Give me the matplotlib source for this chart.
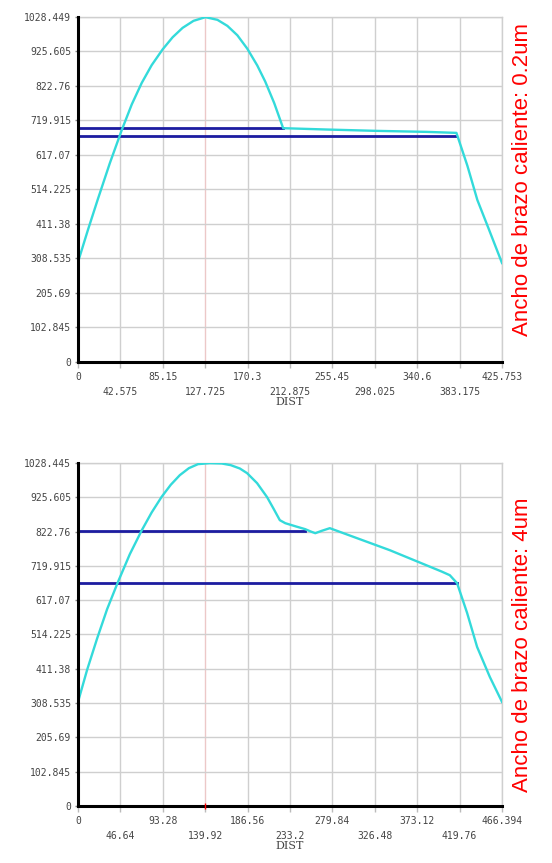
import matplotlib
matplotlib.use("Agg")
import matplotlib.pyplot as plt

# panel 1: ancho de brazo caliente 0.2um
x1_ticks = [0, 42.575, 85.15, 127.725, 170.3, 212.875, 255.45, 298.025, 340.6, 383.175, 425.753]
x1 = [0, 10, 20, 32, 44, 54, 64, 74, 85, 95, 105, 116, 128, 140, 150, 160, 170, 180, 188, 197, 206,
      250, 300, 350, 380, 391, 401, 412, 425.753]
y1 = [298, 394, 486, 593, 692, 768, 832, 885, 932, 968, 996, 1017, 1028, 1020, 1002, 974, 934, 884,
      836, 772, 697, 693, 689, 686, 683, 585, 483, 400, 295]
h1_levels = [697, 674]
h1_ends = [206, 380]

# panel 2: ancho de brazo caliente 4um
x2_ticks = [0, 46.64, 93.28, 139.92, 186.56, 233.2, 279.84, 326.48, 373.12, 419.76, 466.394]
x2 = [0, 10, 21, 32, 44, 57, 70, 81, 92, 102, 112, 122, 132, 145, 158, 168, 178, 186, 197, 208,
      215, 222, 228, 240, 250, 256, 261, 268, 277, 343, 400, 409, 417, 428, 439, 453, 466.394]
y2 = [312, 408, 502, 590, 672, 755, 826, 880, 927, 963, 992, 1013, 1025, 1028, 1027, 1022, 1012,
      998, 968, 926, 892, 857, 848, 838, 830, 823, 818, 825, 833, 767, 703, 692, 668, 579, 477,
      387, 312]
h2_levels = [826, 669]
h2_ends = [250, 417]

y_ticks = [0, 102.845, 205.69, 308.535, 411.38, 514.225, 617.07, 719.915, 822.76, 925.605, 1028.449]
y_labels_1 = ['0', '102.845', '205.69', '308.535', '411.38', '514.225', '617.07', '719.915',
              '822.76', '925.605', '1028.449']
y_labels_2 = y_labels_1[:-1] + ['1028.445']

titles = ['Ancho de brazo caliente: 0.2um', 'Ancho de brazo caliente: 4um']

fig = plt.figure(figsize=(5.52, 8.63), dpi=100)
W, H = 552, 863


def panel(rect, xt, xs, ys, levels, ends, ylabels, title, title_y):
    ax = fig.add_axes(rect)
    ax.set_xlim(0, xt[-1])
    ax.set_ylim(0, y_ticks[-1])

    # grid, the 4th vertical line is pinkish in the original
    for i, t in enumerate(xt[1:], start=1):
        c = '#ecc8c8' if i == 3 else '#cfcfcf'
        ax.axvline(t, color=c, lw=1, zorder=1)
    for t in y_ticks[1:]:
        ax.axhline(t, color='#cfcfcf', lw=1, zorder=1)

    for lev, e in zip(levels, ends):
        ax.plot([0, e], [lev, lev], color='#1c1ca0', lw=2, zorder=3)
    ax.plot(xs, ys, color='#33dada', lw=1.7, zorder=4, solid_joinstyle='round')

    for s in ['top', 'right']:
        ax.spines[s].set_color('#cfcfcf')
        ax.spines[s].set_linewidth(1)
    for s in ['left', 'bottom']:
        ax.spines[s].set_color('black')
        ax.spines[s].set_linewidth(2.2)
        ax.spines[s].set_zorder(5)

    ax.set_yticks(y_ticks)
    ax.set_yticklabels(ylabels, fontsize=7, family='DejaVu Sans Mono', color='#444444')
    xl = [('%g' % t) if i % 2 == 0 else '\n%g' % t for i, t in enumerate(xt)]
    ax.set_xticks(xt)
    ax.set_xticklabels(xl, fontsize=7, family='DejaVu Sans Mono', color='#444444',
                       linespacing=1.6)
    ax.tick_params(axis='y', length=2, width=1, color='#888888', pad=3)
    ax.tick_params(axis='x', length=4, width=1, color='#bbbbbb', pad=3)
    ax.set_xlabel('DIST', fontsize=8, family='DejaVu Serif', color='#444444', labelpad=0)

    fig.text(522 / W, 1 - title_y / H, title, rotation=90, color='red',
             fontsize=16, family='Liberation Sans', ha='center', va='center')
    return ax


ax1 = panel([78 / W, 1 - 362 / H, 424 / W, 345 / H], x1_ticks, x1, y1, h1_levels, h1_ends,
            y_labels_1, titles[0], 179)
ax2 = panel([78 / W, 1 - 806 / H, 424 / W, 343 / H], x2_ticks, x2, y2, h2_levels, h2_ends,
            y_labels_2, titles[1], 645)
ax2.plot([x2_ticks[3]], [0], marker='|', color='red', ms=5, zorder=6, clip_on=False)

fig.savefig('out.png', dpi=100)
